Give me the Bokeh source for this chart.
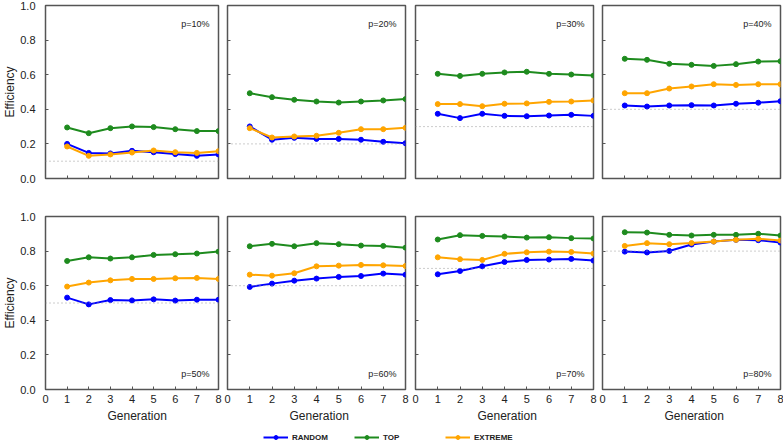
from bokeh.plotting import figure
from bokeh.layouts import column, row
from bokeh.models import (Span, Label, Title, Legend, LegendItem, FixedTicker,
                          ColumnDataSource, Range1d, CustomJSTickFormatter,
                          PrintfTickFormatter)
from bokeh.embed import file_html
from bokeh.resources import INLINE

# ---------------- data ----------------
generations = [1, 2, 3, 4, 5, 6, 7, 8]
p_levels = [0.1, 0.2, 0.3, 0.4, 0.5, 0.6, 0.7, 0.8]
series_names = ["RANDOM", "TOP", "EXTREME"]

random_eff = [
    [0.200, 0.148, 0.145, 0.160, 0.152, 0.141, 0.131, 0.139],
    [0.301, 0.224, 0.235, 0.229, 0.229, 0.224, 0.212, 0.204],
    [0.374, 0.349, 0.374, 0.362, 0.360, 0.364, 0.368, 0.362],
    [0.422, 0.416, 0.422, 0.424, 0.422, 0.432, 0.438, 0.447],
    [0.531, 0.492, 0.517, 0.515, 0.521, 0.514, 0.519, 0.519],
    [0.593, 0.612, 0.629, 0.641, 0.651, 0.656, 0.670, 0.664],
    [0.666, 0.685, 0.712, 0.737, 0.749, 0.751, 0.755, 0.745],
    [0.797, 0.792, 0.801, 0.838, 0.855, 0.865, 0.863, 0.849],
]
top_eff = [
    [0.295, 0.262, 0.291, 0.301, 0.297, 0.285, 0.274, 0.274],
    [0.493, 0.470, 0.455, 0.445, 0.439, 0.445, 0.451, 0.459],
    [0.605, 0.593, 0.605, 0.613, 0.617, 0.605, 0.601, 0.595],
    [0.692, 0.686, 0.663, 0.657, 0.651, 0.661, 0.676, 0.678],
    [0.743, 0.764, 0.757, 0.764, 0.778, 0.782, 0.786, 0.797],
    [0.828, 0.842, 0.828, 0.846, 0.840, 0.832, 0.830, 0.820],
    [0.867, 0.892, 0.888, 0.884, 0.878, 0.880, 0.875, 0.873],
    [0.909, 0.907, 0.894, 0.890, 0.894, 0.894, 0.900, 0.890],
]
extreme_eff = [
    [0.185, 0.131, 0.139, 0.150, 0.162, 0.152, 0.148, 0.158],
    [0.291, 0.237, 0.243, 0.247, 0.264, 0.285, 0.285, 0.293],
    [0.430, 0.430, 0.418, 0.432, 0.434, 0.443, 0.445, 0.451],
    [0.493, 0.493, 0.520, 0.532, 0.545, 0.541, 0.545, 0.545],
    [0.595, 0.618, 0.631, 0.639, 0.639, 0.643, 0.645, 0.639],
    [0.664, 0.658, 0.672, 0.712, 0.716, 0.720, 0.718, 0.714],
    [0.764, 0.753, 0.749, 0.784, 0.793, 0.797, 0.795, 0.786],
    [0.830, 0.846, 0.840, 0.847, 0.855, 0.865, 0.871, 0.861],
]
x_ticks = [0, 1, 2, 3, 4, 5, 6, 7, 8]
y_ticks = [0.0, 0.2, 0.4, 0.6, 0.8, 1.0]

# ---------------- style ----------------
FONT = "Liberation Sans"
COLORS = ["#0000FF", "#1E8B1E", "#FFA500"]
FRAME_COLOR = "#555555"
TEXT_COLOR = "#222222"
FRAME_W, FRAME_H = 178, 173
col_left = [40, 4, 5, 5]
col_right = [5, 5, 4, 3]
legend_x = [263, 354, 445]

blank = CustomJSTickFormatter(code="return ''")


def make_panel(i):
    r, c = divmod(i, 4)
    top_b = 5
    bot_b = 33 if r == 0 else 37
    w = col_left[c] + FRAME_W + col_right[c]
    h = top_b + FRAME_H + bot_b
    p = figure(width=w, height=h, x_range=Range1d(0, 8), y_range=Range1d(0, 1),
               output_backend="svg", toolbar_location=None,
               min_border_left=col_left[c], min_border_right=col_right[c],
               min_border_top=top_b, min_border_bottom=bot_b)
    p.background_fill_color = "white"
    p.border_fill_color = "white"
    p.outline_line_color = FRAME_COLOR
    p.outline_line_width = 1.5
    p.grid.visible = False
    p.xaxis.ticker = FixedTicker(ticks=x_ticks)
    p.yaxis.ticker = FixedTicker(ticks=y_ticks)
    for ax in p.axis:
        ax.axis_line_color = None
        ax.major_tick_in = 3
        ax.major_tick_out = 0
        ax.major_tick_line_color = FRAME_COLOR
        ax.minor_tick_line_color = None
        ax.major_label_text_font = FONT
        ax.major_label_text_font_size = "11px"
        ax.major_label_text_color = TEXT_COLOR
    p.xaxis.major_label_standoff = 5
    p.yaxis.major_label_standoff = 10
    if c == 0:
        p.yaxis.formatter = PrintfTickFormatter(format="%.1f")
        p.yaxis.axis_label = "Efficiency"
        p.yaxis.axis_label_standoff = 0
        p.yaxis.axis_label_text_font = FONT
        p.yaxis.axis_label_text_font_size = "12px"
        p.yaxis.axis_label_text_font_style = "normal"
        p.yaxis.axis_label_text_color = TEXT_COLOR
    else:
        p.yaxis.formatter = blank
        p.yaxis.major_label_standoff = 0
    if r == 0:
        p.xaxis.formatter = blank
        p.xaxis.major_label_standoff = 0
    else:
        p.add_layout(Title(text="Generation", align="left", offset=62,
                           text_font=FONT, text_font_size="12px",
                           text_font_style="normal", text_color=TEXT_COLOR,
                           standoff=2), "below")

    pv = p_levels[i]
    p.add_layout(Span(location=pv, dimension="width", line_color="#999999",
                      line_dash="1 3", line_width=1))

    for vals, color in zip([random_eff[i], top_eff[i], extreme_eff[i]], COLORS):
        src = ColumnDataSource(data=dict(x=generations, y=vals))
        p.line("x", "y", source=src, line_color=color, line_width=2)
        p.scatter("x", "y", source=src, fill_color=color, line_color=color, size=5)

    lbl = Label(x=8, y=1 if r == 0 else 0, x_offset=-9,
                y_offset=-18 if r == 0 else 16,
                text=f"p={round(pv * 100)}%", text_align="right",
                text_baseline="middle", text_font=FONT, text_font_size="9px",
                text_color=TEXT_COLOR)
    p.add_layout(lbl)
    return p


panels = [make_panel(i) for i in range(8)]

# legend strip: renderers reuse the first panel's series, kept outside the visible range
leg = figure(width=783, height=17, x_range=Range1d(-2, -1), y_range=Range1d(-2, -1),
             x_axis_type=None, y_axis_type=None, output_backend="svg",
             toolbar_location=None, min_border=0)
leg.outline_line_color = None
leg.grid.visible = False
for name, vals, color, xpos in zip(series_names,
                                   [random_eff[0], top_eff[0], extreme_eff[0]],
                                   COLORS, legend_x):
    src = ColumnDataSource(data=dict(x=generations, y=vals))
    lr = leg.line("x", "y", source=src, line_color=color, line_width=2)
    sr = leg.scatter("x", "y", source=src, fill_color=color, line_color=color, size=5)
    lg = Legend(items=[LegendItem(label=name, renderers=[lr, sr])],
                location=(xpos, 1), orientation="horizontal", padding=0, margin=0,
                border_line_color=None, background_fill_alpha=0,
                glyph_width=25, glyph_height=10, label_height=10, label_width=10,
                label_standoff=4, spacing=0, label_text_font=FONT,
                label_text_font_size="8px", label_text_font_style="bold",
                label_text_color=TEXT_COLOR)
    leg.add_layout(lg, "center")

layout = column(row(*panels[:4]), row(*panels[4:]), leg)

open("out.html", "w").write(file_html(layout, INLINE))
